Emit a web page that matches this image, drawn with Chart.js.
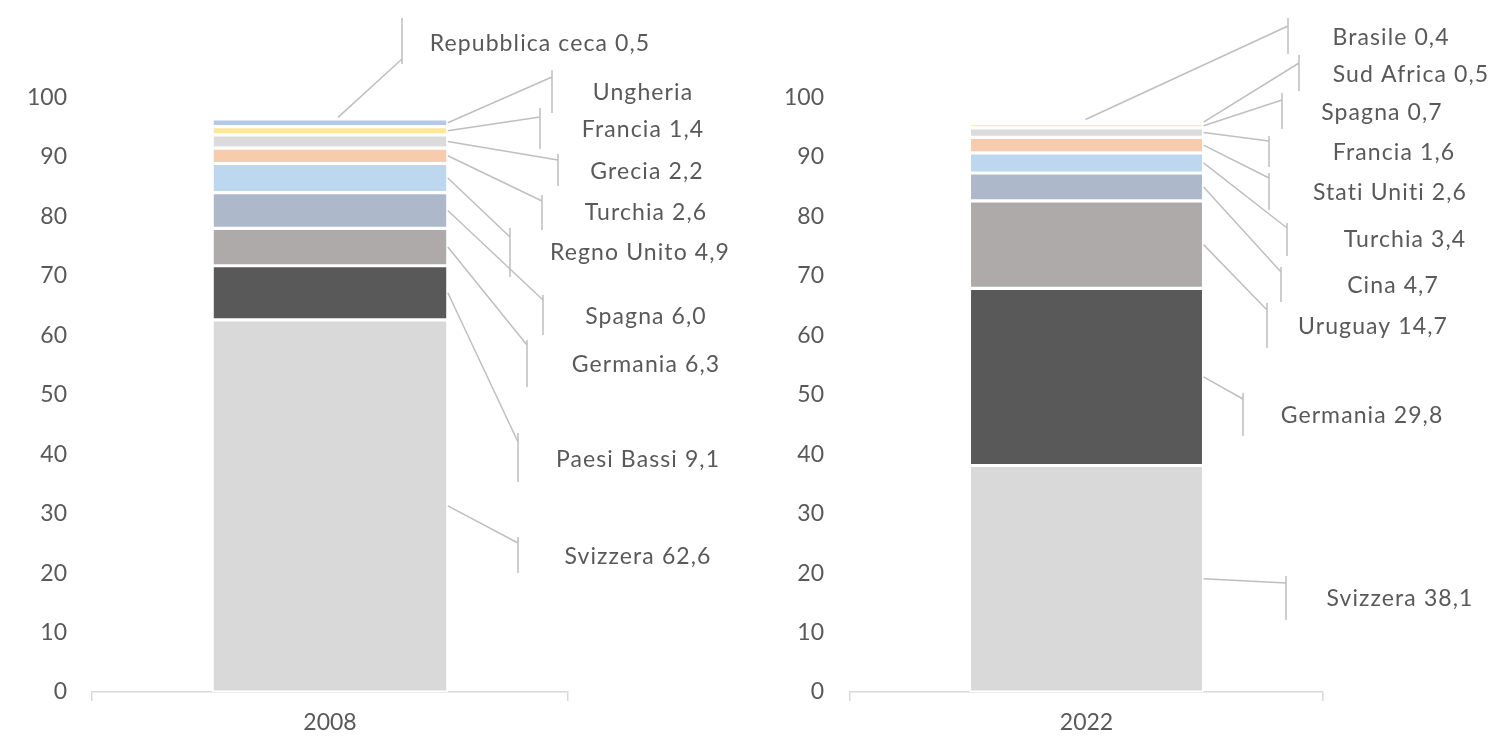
<!DOCTYPE html>
<html><head><meta charset="utf-8">
<script src="https://cdn.jsdelivr.net/npm/chart.js@4.4.0/dist/chart.umd.min.js"></script>
<style>
html,body{margin:0;padding:0;background:#fff;overflow:hidden}
#wrap{position:relative;width:1496px;height:738px}
canvas{position:absolute;top:0}
#c1{left:0}
#c2{left:748px}
</style></head><body>
<div id="wrap"><canvas id="c1" width="748" height="738"></canvas><canvas id="c2" width="748" height="738"></canvas></div>
<script>
// ---- data ----
const years = ['2008', '2022'];
const countries2008 = ['Svizzera','Paesi Bassi','Germania','Spagna','Regno Unito','Turchia','Grecia','Francia','Ungheria','Repubblica ceca'];
const values2008 = [62.6, 9.1, 6.3, 6.0, 4.9, 2.6, 2.2, 1.4, 1.3, 0.5];
const valueShown2008 = [true, true, true, true, true, true, true, true, false, true];
const countries2022 = ['Svizzera','Germania','Uruguay','Cina','Turchia','Stati Uniti','Francia','Spagna','Sud Africa','Brasile'];
const values2022 = [38.1, 29.8, 14.7, 4.7, 3.4, 2.6, 1.6, 0.7, 0.5, 0.4];
const valueShown2022 = [true, true, true, true, true, true, true, true, true, true];
const yMin = 0, yMax = 100, yStep = 10;

// ---- styles / layout ----
const segmentColors = ['#D9D9D9','#595959','#AEAAAA','#ADB9CA','#BDD7EE','#F8CBAD','#DBDBDB','#FFE699','#B4C7E7','#C5E0B4'];
const textColor = '#595959';
const lineColor = '#BFBFBF';
const FONT = 'Lato';
const FS = 23;

// label layout (canvas px): text centre, leader vertical x, top, bottom, join y, anchor
const layout2008 = [
  {tx:638, ty:557, vx:518, vt:537, vb:573, jy:543},
  {tx:638, ty:460, vx:518, vt:433, vb:482, jy:442},
  {tx:646, ty:365, vx:527, vt:340, vb:387, jy:345},
  {tx:646, ty:317, vx:543, vt:295, vb:335, jy:300},
  {tx:640, ty:253, vx:510, vt:228, vb:277, jy:237},
  {tx:646, ty:213, vx:542, vt:195, vb:230, jy:201},
  {tx:647, ty:172, vx:558, vt:154, vb:186, jy:160},
  {tx:643, ty:130, vx:540, vt:108, vb:149, jy:117},
  {tx:643, ty:93,  vx:552, vt:70,  vb:113, jy:77},
  {tx:540, ty:44,  vx:402, vt:18,  vb:64,  jy:59, top:true, dx:8}
];
const layout2022 = [
  {tx:652, ty:599, vx:538, vt:576, vb:620, jy:583},
  {tx:614, ty:416, vx:495, vt:393, vb:436, jy:399},
  {tx:625, ty:327, vx:519, vt:303, vb:348, jy:310},
  {tx:645, ty:286, vx:533, vt:267, vb:302, jy:272},
  {tx:657, ty:240, vx:539, vt:223, vb:256, jy:228},
  {tx:642, ty:193, vx:521, vt:173, vb:210, jy:178},
  {tx:646, ty:153, vx:521, vt:136, vb:167, jy:141},
  {tx:634, ty:113, vx:534, vt:93,  vb:129, jy:100},
  {tx:663, ty:75,  vx:551, vt:55,  vb:91,  jy:63},
  {tx:643, ty:38,  vx:540, vt:18,  vb:54,  jy:26, top:true, dx:-1}
];

const fmt = v => v.toFixed(1).replace('.', ',');

const leaderPlugin = {
  id: 'leaders',
  afterDatasetsDraw(chart, args, opts) {
    const ctx = chart.ctx;
    ctx.save();
    ctx.strokeStyle = lineColor;
    ctx.lineWidth = 1.5;
    ctx.font = FS + 'px ' + FONT;
    ctx.fillStyle = textColor;
    ctx.textAlign = 'center';
    ctx.textBaseline = 'middle';
    if ('letterSpacing' in ctx) ctx.letterSpacing = '1.1px';
    opts.names.forEach((name, i) => {
      const bar = chart.getDatasetMeta(i).data[0];
      const L = opts.layout[i];
      const midY = (bar.y + bar.base) / 2;
      const sx = L.top ? bar.x + (L.dx || 0) : bar.x + bar.width / 2;
      ctx.beginPath();
      ctx.moveTo(sx, midY);
      ctx.lineTo(L.vx, L.jy);
      ctx.moveTo(L.vx, L.vt);
      ctx.lineTo(L.vx, L.vb);
      ctx.stroke();
      const txt = opts.shown[i] ? name + ' ' + fmt(opts.values[i]) : name;
      ctx.fillText(txt, L.tx, L.ty);
    });
    ctx.restore();
  }
};

function makeChart(id, year, names, values, shown, layout, yWidth, padRight, tickPad) {
  return new Chart(document.getElementById(id), {
    type: 'bar',
    data: {
      labels: [year],
      datasets: names.map((n, i) => ({
        label: n, data: [values[i]],
        backgroundColor: segmentColors[i],
        borderColor: '#FFFFFF', borderWidth: 1.6, borderSkipped: false
      }))
    },
    options: {
      responsive: false, animation: false, devicePixelRatio: 1,
      layout: {padding: {left: 0, top: 97.5, right: padRight, bottom: 0}},
      datasets: {bar: {categoryPercentage: 1, barPercentage: 0.495}},
      plugins: {
        legend: {display: false}, tooltip: {enabled: false},
        leaders: {names, values, shown, layout}
      },
      scales: {
        x: {
          stacked: true,
          grid: {display: true, drawOnChartArea: false, drawTicks: true, tickLength: 9, color: '#D9D9D9', lineWidth: 1.5, offset: true},
          border: {display: true, color: '#D9D9D9', width: 1.5},
          ticks: {padding: 8, color: textColor, font: {family: FONT, size: FS}},
          afterFit(s) { s.height = 46; }
        },
        y: {
          stacked: true, min: yMin, max: yMax,
          grid: {display: false, drawTicks: false},
          border: {display: false},
          ticks: {stepSize: yStep, padding: tickPad, color: textColor, font: {family: FONT, size: FS}},
          afterFit(s) { s.width = yWidth; }
        }
      }
    },
    plugins: [leaderPlugin]
  });
}

function build() {
  makeChart('c1', years[0], countries2008, values2008, valueShown2008, layout2008, 92, 180, 25);
  makeChart('c2', years[1], countries2022, values2022, valueShown2022, layout2022, 102, 173, 26);
}
if (document.fonts && document.fonts.load) {
  document.fonts.load(FS + 'px ' + FONT).then(build, build);
} else build();
</script>
</body></html>
